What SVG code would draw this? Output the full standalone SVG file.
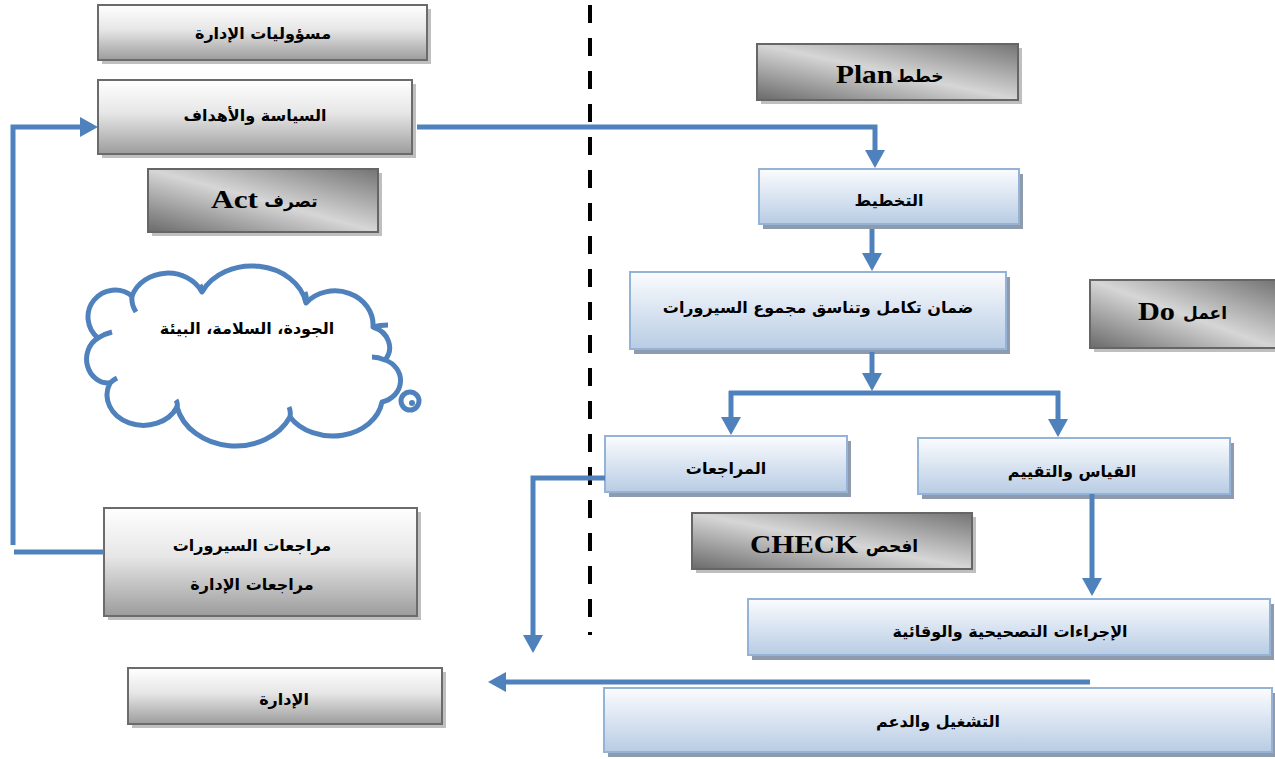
<svg xmlns="http://www.w3.org/2000/svg" width="1275" height="759" viewBox="0 0 1275 759">
<defs>
<linearGradient id="gGray" x1="0" y1="0" x2="0" y2="1">
<stop offset="0" stop-color="#FFFFFF"/><stop offset="0.45" stop-color="#E6E6E6"/><stop offset="1" stop-color="#9C9C9C"/>
</linearGradient>
<linearGradient id="gDark" x1="0" y1="1" x2="1" y2="0">
<stop offset="0" stop-color="#6A6A6A"/><stop offset="0.5" stop-color="#D6D6D6"/><stop offset="1" stop-color="#747474"/>
</linearGradient>
<linearGradient id="gBlue" x1="0" y1="0" x2="0" y2="1">
<stop offset="0" stop-color="#FBFCFE"/><stop offset="1" stop-color="#B8CCE4"/>
</linearGradient>
<marker id="arr" markerUnits="userSpaceOnUse" markerWidth="18" markerHeight="20" refX="2" refY="10" orient="auto">
<path d="M0,0 L18,10 L0,20 z" fill="#4F81BD"/>
</marker>
</defs>
<style>
.gray{fill:url(#gGray);stroke:#6B6B6B;stroke-width:2}
.dark{fill:url(#gDark);stroke:#666666;stroke-width:2}
.gsh{fill:#BFBFBF}
.blue{fill:url(#gBlue);stroke:#95B3D7;stroke-width:2}
.bsh{fill:#8E9BAD}
.ar{font-family:"DejaVu Sans",sans-serif;font-weight:bold;font-size:16px;fill:#000;text-anchor:middle}
.ar2{font-family:"DejaVu Sans",sans-serif;font-weight:bold;font-size:17px;fill:#000;text-anchor:middle}
.en{font-family:"Liberation Serif",serif;font-weight:bold;font-size:25px;fill:#000}
.con{fill:none;stroke:#4F81BD;stroke-width:5}
.cloud{fill:#FFFFFF;stroke:#4F81BD;stroke-width:5;stroke-linejoin:round}
</style>
<rect width="1275" height="759" fill="#FFFFFF"/>

<line x1="590" y1="5" x2="590" y2="635" stroke="#000" stroke-width="4" stroke-dasharray="18,15"/>

<g id="n-mas">
<rect class="gsh" x="102" y="9" width="329" height="55"/>
<rect class="gray" x="98" y="5" width="329" height="55"/>
<text class="ar" x="263" y="39">مسؤوليات الإدارة</text>
</g>
<g id="n-siyasa">
<rect class="gsh" x="102" y="84" width="314" height="74"/>
<rect class="gray" x="98" y="80" width="314" height="74"/>
<text class="ar" x="255" y="121">السياسة والأهداف</text>
</g>
<g id="n-act">
<rect class="gsh" x="152" y="173" width="230" height="63"/>
<rect class="dark" x="148" y="169" width="230" height="63"/>
<text class="en" x="211" y="208" textLength="47" lengthAdjust="spacingAndGlyphs">Act</text>
<text class="ar2" x="291" y="207">تصرف</text>
</g>
<g id="n-plan">
<rect class="gsh" x="761" y="48" width="261" height="56"/>
<rect class="dark" x="757" y="44" width="261" height="56"/>
<text class="en" x="836" y="83" textLength="57" lengthAdjust="spacingAndGlyphs">Plan</text>
<text class="ar2" x="920" y="82">خطط</text>
</g>
<g id="n-do">
<rect class="gsh" x="1094" y="284" width="185" height="68"/>
<rect class="dark" x="1090" y="280" width="186" height="68"/>
<text class="en" x="1138" y="320" textLength="37" lengthAdjust="spacingAndGlyphs">Do</text>
<text class="ar2" x="1205" y="319">اعمل</text>
</g>
<g id="n-check">
<rect class="gsh" x="696" y="517" width="280" height="56"/>
<rect class="dark" x="692" y="513" width="280" height="56"/>
<text class="en" x="750" y="553" textLength="108" lengthAdjust="spacingAndGlyphs">CHECK</text>
<text class="ar2" x="892" y="552">افحص</text>
</g>
<g id="n-murajaat-s">
<rect class="gsh" x="108" y="512" width="313" height="108"/>
<rect class="gray" x="104" y="508" width="313" height="108"/>
<text class="ar" x="252" y="551">مراجعات السيرورات</text>
<text class="ar" x="252" y="590">مراجعات الإدارة</text>
</g>
<g id="n-idara">
<rect class="gsh" x="132" y="672" width="314" height="56"/>
<rect class="gray" x="128" y="668" width="314" height="56"/>
<text class="ar" x="284" y="705">الإدارة</text>
</g>

<g id="n-takhtit">
<rect class="bsh" x="763" y="174" width="260" height="55"/>
<rect class="blue" x="759" y="169" width="260" height="55"/>
<text class="ar" x="889" y="206">التخطيط</text>
</g>
<g id="n-daman">
<rect class="bsh" x="634" y="277" width="376" height="77"/>
<rect class="blue" x="630" y="272" width="376" height="77"/>
<text class="ar" x="818" y="313">ضمان تكامل وتناسق مجموع السيرورات</text>
</g>
<g id="n-murajaat">
<rect class="bsh" x="609" y="441" width="242" height="56"/>
<rect class="blue" x="605" y="436" width="242" height="56"/>
<text class="ar" x="726" y="474">المراجعات</text>
</g>
<g id="n-qiyas">
<rect class="bsh" x="922" y="443" width="312" height="56"/>
<rect class="blue" x="918" y="438" width="312" height="56"/>
<text class="ar" x="1072" y="477">القياس والتقييم</text>
</g>
<g id="n-ijraat">
<rect class="bsh" x="752" y="604" width="522" height="56"/>
<rect class="blue" x="748" y="599" width="522" height="56"/>
<text class="ar" x="1010" y="637">الإجراءات التصحيحية والوقائية</text>
</g>
<g id="n-tashghil">
<rect class="bsh" x="608" y="693" width="667" height="64"/>
<rect class="blue" x="604" y="688" width="668" height="64"/>
<text class="ar" x="938" y="727">التشغيل والدعم</text>
</g>

<g id="n-cloud">
<path class="cloud" d="M98,338 A26,26 0 0 1 132,296 A38,34 0 0 1 202,292 A55,45 0 0 1 306,303 A38,34 0 0 1 373,327 A26,22 0 0 1 385,360 A24,22 0 0 1 382,402 A50,40 0 0 1 290,417 A60,50 0 0 1 177,407 A36,30 0 0 1 110,383 A22,24 0 0 1 98,338 z"/>
<path class="cloud" d="M98,338 Q104,334 112,332 M132,296 Q131,304 136,312 M202,292 Q202,288 200,285 M306,303 Q307,298 305,292 M373,327 Q380,325 388,325 M385,360 Q378,357 372,357 M290,417 Q291,411 289,407 M177,407 Q178,403 176,400 M110,383 Q113,380 117,378" style="fill:none"/>
<circle cx="410" cy="401" r="9" fill="none" stroke="#4F81BD" stroke-width="5"/>
<circle cx="412" cy="403" r="3" fill="#4F81BD"/>
<text class="ar" x="247" y="334">الجودة، السلامة، البيئة</text>
</g>

<g id="connectors">
<path class="con" d="M417,127 H875 V152" marker-end="url(#arr)"/>
<path class="con" d="M872,229 V255" marker-end="url(#arr)"/>
<path class="con" d="M872,352 V375" marker-end="url(#arr)"/>
<path class="con" d="M729,393 H1060"/>
<path class="con" d="M731,391 V419" marker-end="url(#arr)"/>
<path class="con" d="M1058,391 V421" marker-end="url(#arr)"/>
<path class="con" d="M605,478 H533 V637" marker-end="url(#arr)"/>
<path class="con" d="M1092,494 V580" marker-end="url(#arr)"/>
<path class="con" d="M1090,682 H504" marker-end="url(#arr)"/>
<path class="con" d="M104,552 H14"/>
<path class="con" d="M13,545 V127 H82" marker-end="url(#arr)"/>
</g>
</svg>
